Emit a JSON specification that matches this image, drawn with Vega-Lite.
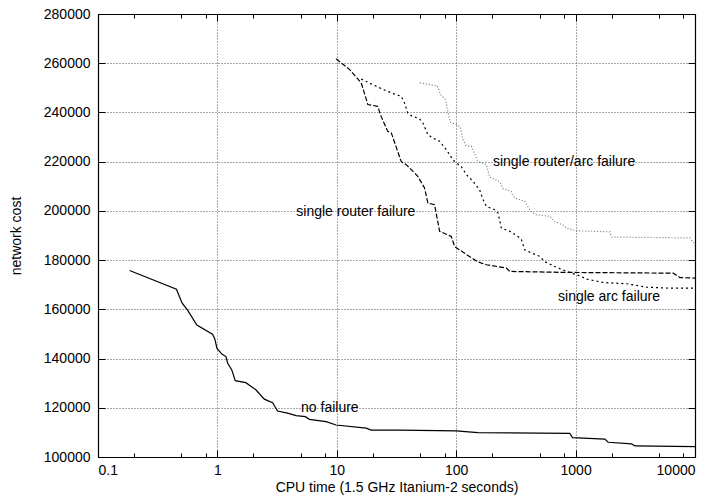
{
  "$schema": "https://vega.github.io/schema/vega-lite/v6.json",
  "width": 597,
  "height": 443,
  "autosize": {"type": "none"},
  "padding": {"left": 98, "top": 14, "right": 23, "bottom": 43},
  "config": {
    "font": "Liberation Sans",
    "view": {"stroke": null},
    "axis": {
      "labelFontSize": 14, "titleFontSize": 14, "titleFontWeight": "normal",
      "labelColor": "#000", "titleColor": "#000",
      "domainColor": "#000", "tickColor": "#000", "domainWidth": 1.2, "tickWidth": 1,
      "gridColor": "#555", "gridDash": [1, 2], "gridWidth": 1, "gridOpacity": 1
    }
  },
  "datasets": {
    "curves": [
      {"series": "no failure", "time": 0.184, "cost": 175800},
      {"series": "no failure", "time": 0.454, "cost": 168200},
      {"series": "no failure", "time": 0.507, "cost": 162500},
      {"series": "no failure", "time": 0.561, "cost": 159800},
      {"series": "no failure", "time": 0.673, "cost": 153600},
      {"series": "no failure", "time": 0.91, "cost": 149900},
      {"series": "no failure", "time": 0.953, "cost": 147900},
      {"series": "no failure", "time": 0.99, "cost": 144200},
      {"series": "no failure", "time": 1.09, "cost": 141800},
      {"series": "no failure", "time": 1.18, "cost": 140800},
      {"series": "no failure", "time": 1.22, "cost": 138100},
      {"series": "no failure", "time": 1.32, "cost": 135400},
      {"series": "no failure", "time": 1.41, "cost": 131000},
      {"series": "no failure", "time": 1.73, "cost": 130200},
      {"series": "no failure", "time": 2.1, "cost": 127300},
      {"series": "no failure", "time": 2.47, "cost": 123500},
      {"series": "no failure", "time": 2.9, "cost": 122100},
      {"series": "no failure", "time": 3.19, "cost": 118700},
      {"series": "no failure", "time": 3.87, "cost": 117800},
      {"series": "no failure", "time": 4.56, "cost": 116800},
      {"series": "no failure", "time": 5.46, "cost": 116400},
      {"series": "no failure", "time": 5.89, "cost": 115300},
      {"series": "no failure", "time": 8.13, "cost": 114400},
      {"series": "no failure", "time": 9.86, "cost": 113000},
      {"series": "no failure", "time": 17.6, "cost": 111700},
      {"series": "no failure", "time": 19.4, "cost": 110900},
      {"series": "no failure", "time": 33.5, "cost": 110900},
      {"series": "no failure", "time": 100, "cost": 110600},
      {"series": "no failure", "time": 152, "cost": 109900},
      {"series": "no failure", "time": 894, "cost": 109600},
      {"series": "no failure", "time": 942, "cost": 107900},
      {"series": "no failure", "time": 1758, "cost": 107300},
      {"series": "no failure", "time": 1875, "cost": 106000},
      {"series": "no failure", "time": 2944, "cost": 105300},
      {"series": "no failure", "time": 3141, "cost": 104500},
      {"series": "no failure", "time": 10000, "cost": 104200},

      {"series": "single router failure", "time": 9.87, "cost": 261800},
      {"series": "single router failure", "time": 12.8, "cost": 257400},
      {"series": "single router failure", "time": 16.0, "cost": 252000},
      {"series": "single router failure", "time": 16.5, "cost": 250000},
      {"series": "single router failure", "time": 18.2, "cost": 243200},
      {"series": "single router failure", "time": 22.0, "cost": 242500},
      {"series": "single router failure", "time": 23.5, "cost": 238400},
      {"series": "single router failure", "time": 26.7, "cost": 232300},
      {"series": "single router failure", "time": 28.6, "cost": 231700},
      {"series": "single router failure", "time": 34.6, "cost": 220100},
      {"series": "single router failure", "time": 38.1, "cost": 218800},
      {"series": "single router failure", "time": 44.8, "cost": 215400},
      {"series": "single router failure", "time": 47.7, "cost": 214000},
      {"series": "single router failure", "time": 54.3, "cost": 209300},
      {"series": "single router failure", "time": 57.9, "cost": 203200},
      {"series": "single router failure", "time": 65.9, "cost": 202500},
      {"series": "single router failure", "time": 72.6, "cost": 191700},
      {"series": "single router failure", "time": 91.0, "cost": 189600},
      {"series": "single router failure", "time": 97.0, "cost": 185500},
      {"series": "single router failure", "time": 129, "cost": 181500},
      {"series": "single router failure", "time": 152, "cost": 179300},
      {"series": "single router failure", "time": 179, "cost": 178100},
      {"series": "single router failure", "time": 263, "cost": 176800},
      {"series": "single router failure", "time": 281, "cost": 175400},
      {"series": "single router failure", "time": 839, "cost": 175000},
      {"series": "single router failure", "time": 6580, "cost": 174700},
      {"series": "single router failure", "time": 7480, "cost": 172900},
      {"series": "single router failure", "time": 10000, "cost": 172700},

      {"series": "single arc failure", "time": 16.0, "cost": 253600},
      {"series": "single arc failure", "time": 20.0, "cost": 251300},
      {"series": "single arc failure", "time": 24.3, "cost": 249400},
      {"series": "single arc failure", "time": 29.4, "cost": 247700},
      {"series": "single arc failure", "time": 34.6, "cost": 246600},
      {"series": "single arc failure", "time": 36.9, "cost": 243900},
      {"series": "single arc failure", "time": 39.3, "cost": 239800},
      {"series": "single arc failure", "time": 42.0, "cost": 238700},
      {"series": "single arc failure", "time": 49.3, "cost": 237400},
      {"series": "single arc failure", "time": 52.6, "cost": 235700},
      {"series": "single arc failure", "time": 57.9, "cost": 231000},
      {"series": "single arc failure", "time": 63.8, "cost": 229600},
      {"series": "single arc failure", "time": 72.6, "cost": 228300},
      {"series": "single arc failure", "time": 82.6, "cost": 224900},
      {"series": "single arc failure", "time": 93.8, "cost": 220800},
      {"series": "single arc failure", "time": 97.0, "cost": 220100},
      {"series": "single arc failure", "time": 110, "cost": 218100},
      {"series": "single arc failure", "time": 122, "cost": 214700},
      {"series": "single arc failure", "time": 138, "cost": 212000},
      {"series": "single arc failure", "time": 157, "cost": 208600},
      {"series": "single arc failure", "time": 168, "cost": 204500},
      {"series": "single arc failure", "time": 179, "cost": 201800},
      {"series": "single arc failure", "time": 210, "cost": 200500},
      {"series": "single arc failure", "time": 224, "cost": 199100},
      {"series": "single arc failure", "time": 239, "cost": 193000},
      {"series": "single arc failure", "time": 281, "cost": 191700},
      {"series": "single arc failure", "time": 329, "cost": 189600},
      {"series": "single arc failure", "time": 352, "cost": 188300},
      {"series": "single arc failure", "time": 375, "cost": 184200},
      {"series": "single arc failure", "time": 427, "cost": 182900},
      {"series": "single arc failure", "time": 501, "cost": 181500},
      {"series": "single arc failure", "time": 551, "cost": 179400},
      {"series": "single arc failure", "time": 669, "cost": 177400},
      {"series": "single arc failure", "time": 786, "cost": 176000},
      {"series": "single arc failure", "time": 924, "cost": 174700},
      {"series": "single arc failure", "time": 1084, "cost": 173600},
      {"series": "single arc failure", "time": 1234, "cost": 172300},
      {"series": "single arc failure", "time": 1701, "cost": 170900},
      {"series": "single arc failure", "time": 2673, "cost": 170400},
      {"series": "single arc failure", "time": 3934, "cost": 169000},
      {"series": "single arc failure", "time": 6170, "cost": 168600},
      {"series": "single arc failure", "time": 10000, "cost": 168600},

      {"series": "single router/arc failure", "time": 49.6, "cost": 252000},
      {"series": "single router/arc failure", "time": 69.2, "cost": 250800},
      {"series": "single router/arc failure", "time": 74.0, "cost": 247300},
      {"series": "single router/arc failure", "time": 81.5, "cost": 245200},
      {"series": "single router/arc failure", "time": 85.2, "cost": 240300},
      {"series": "single router/arc failure", "time": 88.9, "cost": 236100},
      {"series": "single router/arc failure", "time": 99.8, "cost": 235100},
      {"series": "single router/arc failure", "time": 108, "cost": 234200},
      {"series": "single router/arc failure", "time": 114, "cost": 229000},
      {"series": "single router/arc failure", "time": 121, "cost": 226500},
      {"series": "single router/arc failure", "time": 134, "cost": 226200},
      {"series": "single router/arc failure", "time": 152, "cost": 220100},
      {"series": "single router/arc failure", "time": 179, "cost": 218800},
      {"series": "single router/arc failure", "time": 191, "cost": 213700},
      {"series": "single router/arc failure", "time": 231, "cost": 211900},
      {"series": "single router/arc failure", "time": 247, "cost": 209000},
      {"series": "single router/arc failure", "time": 290, "cost": 207900},
      {"series": "single router/arc failure", "time": 309, "cost": 205200},
      {"series": "single router/arc failure", "time": 375, "cost": 203900},
      {"series": "single router/arc failure", "time": 413, "cost": 200500},
      {"series": "single router/arc failure", "time": 455, "cost": 198500},
      {"series": "single router/arc failure", "time": 608, "cost": 197800},
      {"series": "single router/arc failure", "time": 669, "cost": 195700},
      {"series": "single router/arc failure", "time": 786, "cost": 194200},
      {"series": "single router/arc failure", "time": 839, "cost": 193000},
      {"series": "single router/arc failure", "time": 1018, "cost": 191900},
      {"series": "single router/arc failure", "time": 1936, "cost": 191500},
      {"series": "single router/arc failure", "time": 2001, "cost": 189400},
      {"series": "single router/arc failure", "time": 9080, "cost": 189000},
      {"series": "single router/arc failure", "time": 10000, "cost": 186200}
    ],
    "labels": [
      {"label": "single router/arc failure", "time": 203, "cost": 219700},
      {"label": "single router failure", "time": 4.58, "cost": 199500},
      {"label": "single arc failure", "time": 713, "cost": 165200},
      {"label": "no failure", "time": 5.02, "cost": 119800}
    ]
  },
  "resolve": {"axis": {"x": "independent", "y": "independent"}},
  "layer": [
    {
      "data": {"name": "curves"},
      "transform": [{"filter": "datum.series === 'no failure'"}],
      "mark": {"type": "line", "color": "#000", "strokeWidth": 1.2, "clip": true},
      "encoding": {
        "x": {"field": "time", "type": "quantitative",
              "scale": {"type": "log", "domain": [0.1, 10000], "nice": false},
              "axis": {"orient": "bottom", "values": [0.1, 1, 10, 100, 1000, 10000], "format": "~g",
                       "grid": true, "tickSize": -7, "labelPadding": 13,
                       "title": "CPU time (1.5 GHz Itanium-2 seconds)",
                       "titleY": 23, "titleBaseline": "top"}},
        "y": {"field": "cost", "type": "quantitative",
              "scale": {"domain": [100000, 280000], "nice": false, "zero": false},
              "axis": {"orient": "left", "values": [100000, 120000, 140000, 160000, 180000, 200000, 220000, 240000, 260000, 280000],
                       "format": "d", "grid": true, "tickSize": -7, "labelPadding": 15,
                       "title": "network cost", "titleX": -82, "titleBaseline": "middle"}}
      }
    },
    {
      "data": {"name": "curves"},
      "transform": [{"filter": "datum.series === 'single router failure'"}],
      "mark": {"type": "line", "color": "#000", "strokeWidth": 1.2, "strokeDash": [5, 2], "clip": true},
      "encoding": {
        "x": {"field": "time", "type": "quantitative",
              "axis": {"orient": "bottom", "values": [0.2, 0.5, 0.8, 2, 5, 8, 20, 50, 80, 200, 500, 800, 2000, 5000, 8000],
                       "grid": false, "labels": false, "domain": false, "tickSize": -4, "title": null}},
        "y": {"field": "cost", "type": "quantitative",
              "axis": {"orient": "right", "values": [100000, 120000, 140000, 160000, 180000, 200000, 220000, 240000, 260000, 280000],
                       "grid": false, "labels": false, "tickSize": -7, "title": null}}
      }
    },
    {
      "data": {"name": "curves"},
      "transform": [{"filter": "datum.series === 'single arc failure'"}],
      "mark": {"type": "line", "color": "#000", "strokeWidth": 1.2, "strokeDash": [2, 3], "clip": true},
      "encoding": {
        "x": {"field": "time", "type": "quantitative",
              "axis": {"orient": "top", "values": [0.1, 1, 10, 100, 1000, 10000],
                       "grid": false, "labels": false, "tickSize": -7, "title": null}},
        "y": {"field": "cost", "type": "quantitative", "axis": null}
      }
    },
    {
      "data": {"name": "curves"},
      "transform": [{"filter": "datum.series === 'single router/arc failure'"}],
      "mark": {"type": "line", "color": "#777", "strokeWidth": 1.2, "strokeDash": [1, 2], "clip": true},
      "encoding": {
        "x": {"field": "time", "type": "quantitative",
              "axis": {"orient": "top", "values": [0.2, 0.5, 0.8, 2, 5, 8, 20, 50, 80, 200, 500, 800, 2000, 5000, 8000],
                       "grid": false, "labels": false, "domain": false, "tickSize": -4, "title": null}},
        "y": {"field": "cost", "type": "quantitative", "axis": null}
      }
    },
    {
      "data": {"name": "labels"},
      "mark": {"type": "text", "align": "left", "baseline": "middle", "fontSize": 14, "font": "Liberation Sans", "color": "#000"},
      "encoding": {
        "x": {"field": "time", "type": "quantitative", "axis": null},
        "y": {"field": "cost", "type": "quantitative", "axis": null},
        "text": {"field": "label", "type": "nominal"}
      }
    }
  ]
}
